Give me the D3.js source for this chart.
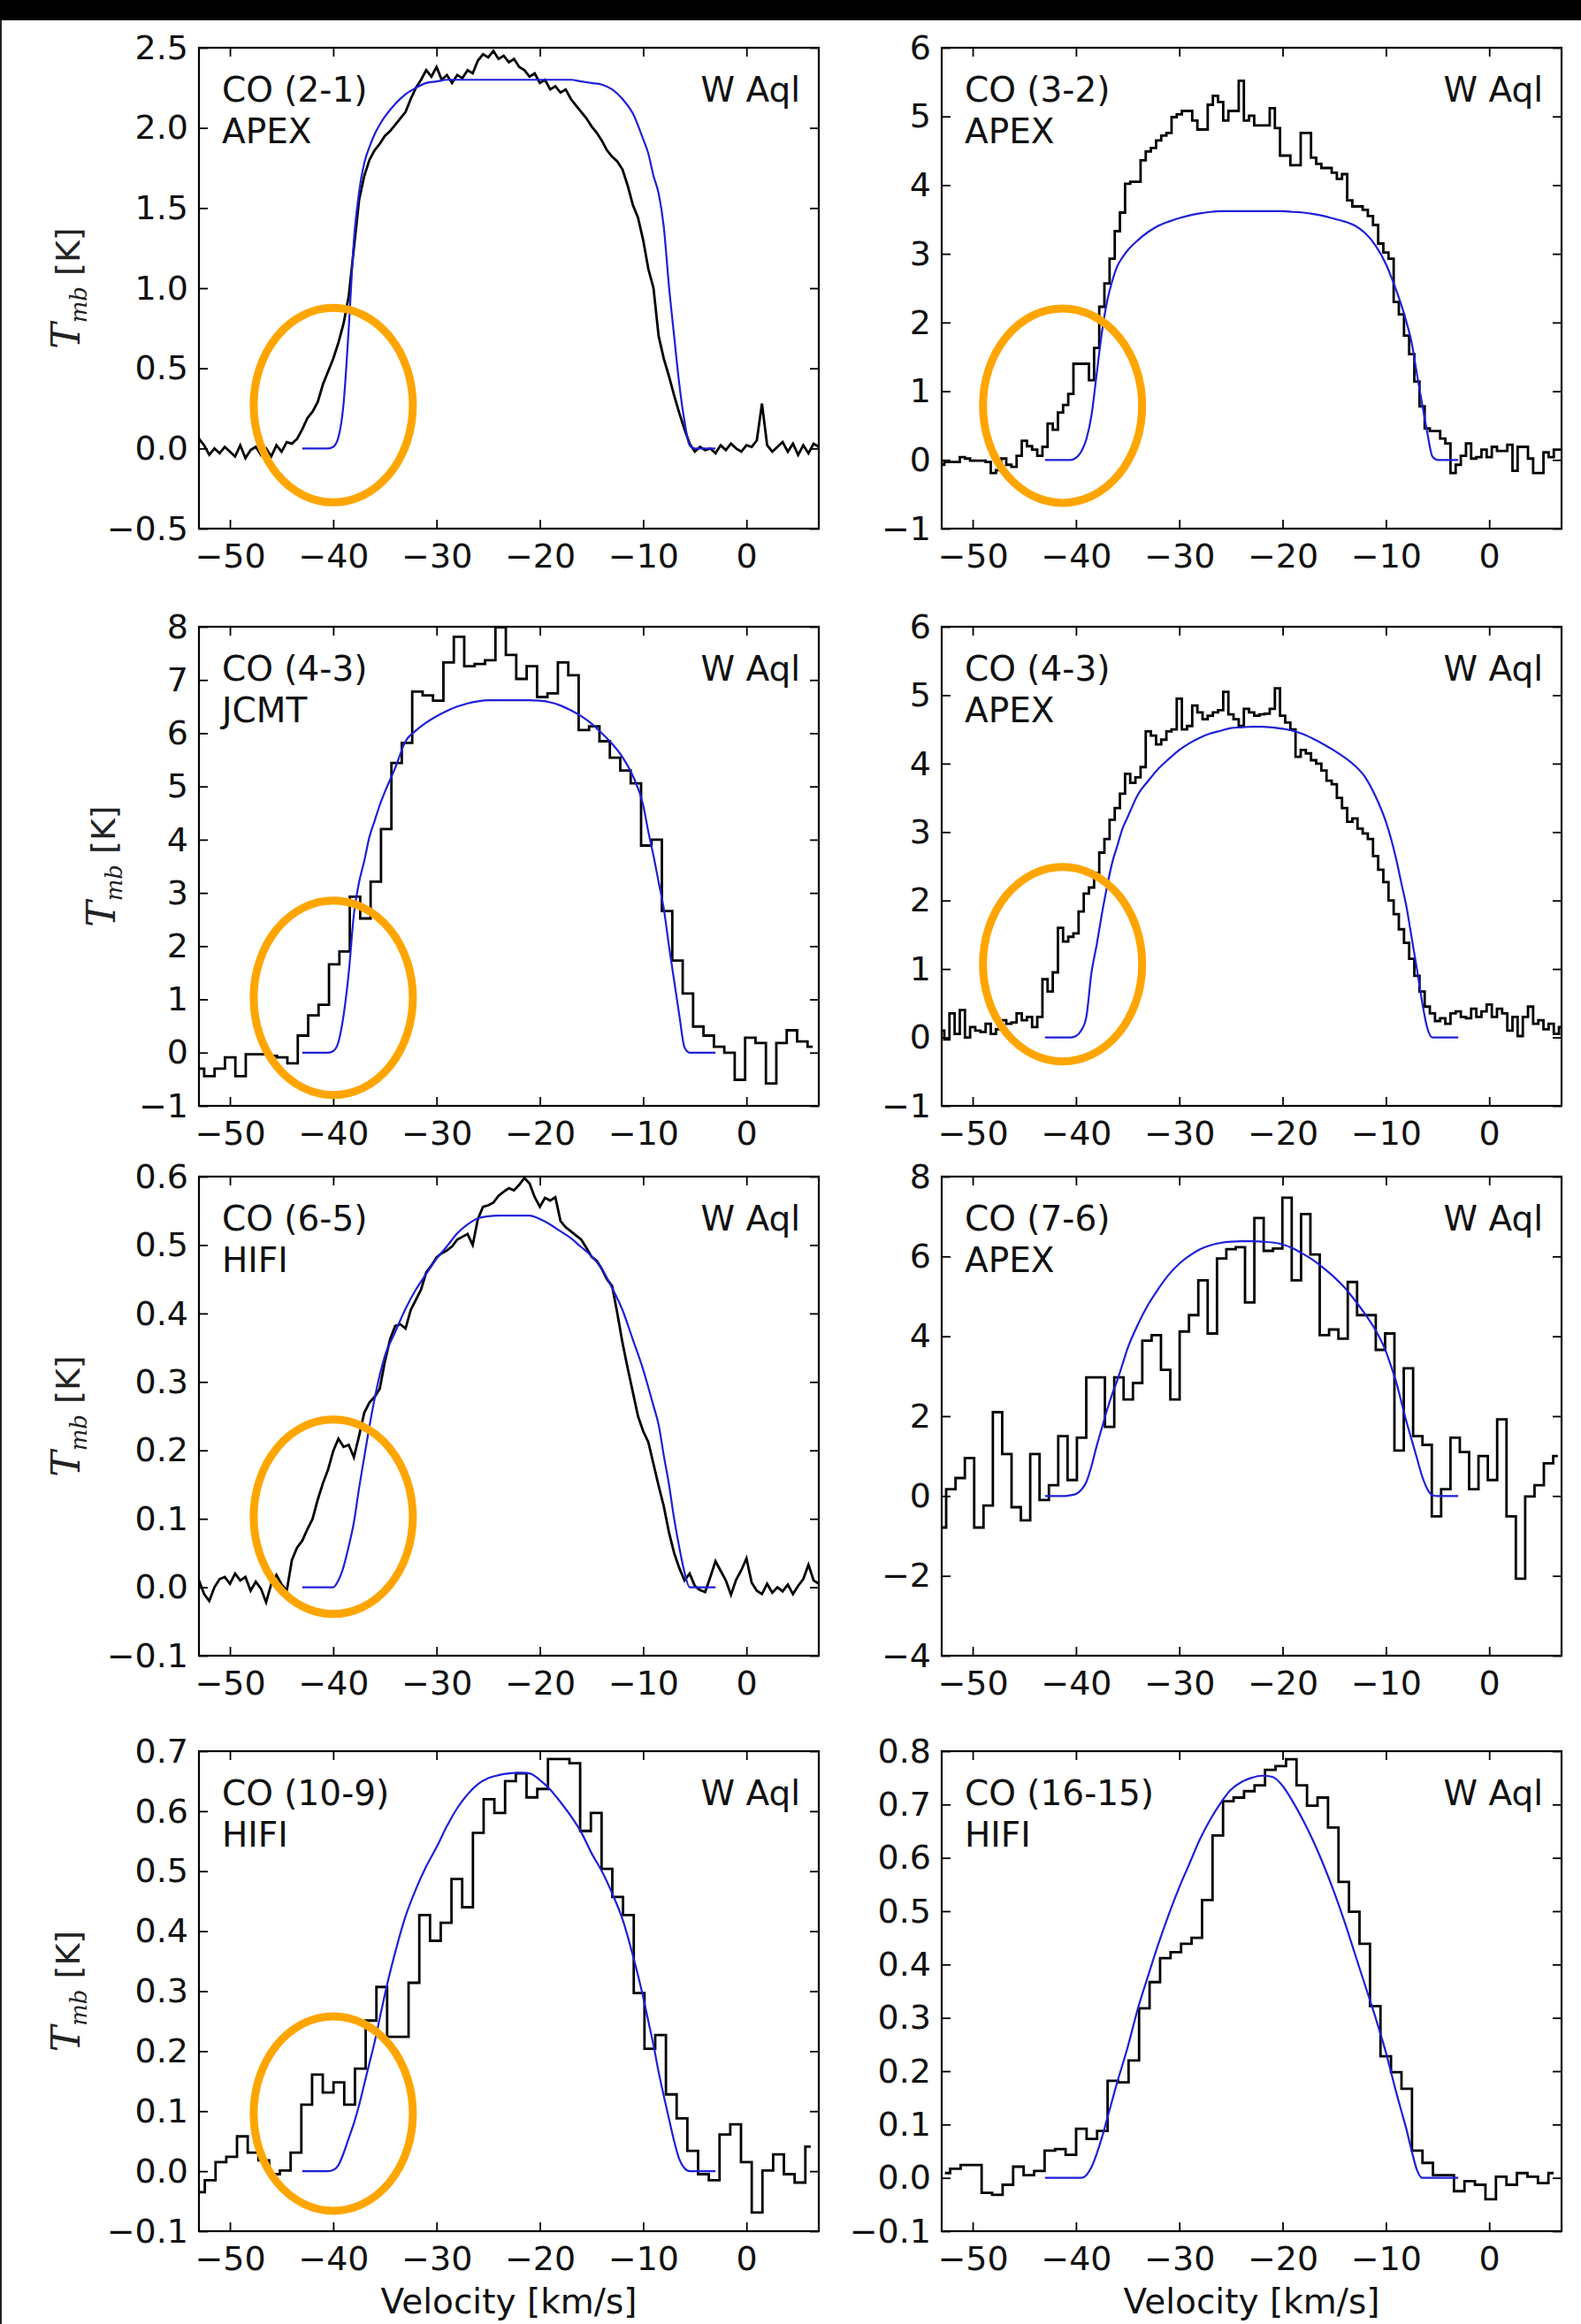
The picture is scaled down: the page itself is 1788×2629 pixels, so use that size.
<!DOCTYPE html>
<html>
<head>
<meta charset="utf-8">
<script src="https://cdn.jsdelivr.net/npm/d3@7"></script>
<style>
  html, body { margin: 0; padding: 0; background: #fff; }
  svg { display: block; }
</style>
</head>
<body>
<svg id="fig" width="1788" height="2629"></svg>
<script>
// ---------------------------------------------------------------------------
// W Aql CO line profiles: observed spectra (black) and model (blue)
// ---------------------------------------------------------------------------

// Shared velocity axis
const velTicks = [-50, -40, -30, -20, -10, 0];
const velDomain = [-53, 7];

// Velocity samples (km/s) of the model profiles
const modelVelocity = [-43, -42, -41, -40.5, -40, -39.5, -39, -38.5, -38, -37.5, -37, -36.5, -36, -35.5, -35,
  -34, -33, -32, -31, -30, -29, -28, -27, -26, -25, -24, -23, -22, -21, -20, -19, -18, -17, -16, -15, -14, -13, -12, -11, -10,
  -9.5, -9, -8.5, -8, -7.5, -7, -6.5, -6, -5.5, -5, -4, -3];

// --- CO (2-1) APEX ---------------------------------------------------------
const co21Start = -53, co21Width = 0.5;
const co21Obs = [
  0.06, 0.02, -0.04, 0.00, -0.03, 0.01, -0.02, -0.05, 0.02, -0.06,
  -0.01, 0.01, -0.04, 0.00, -0.05, 0.02, -0.02, 0.04, 0.03, 0.06,
  0.12, 0.19, 0.23, 0.29, 0.40, 0.48, 0.56, 0.66, 0.78, 0.95,
  1.25, 1.55, 1.70, 1.80, 1.86, 1.90, 1.95, 1.98, 2.02, 2.06,
  2.10, 2.18, 2.25, 2.30, 2.36, 2.32, 2.38, 2.30, 2.33, 2.28,
  2.33, 2.31, 2.36, 2.34, 2.42, 2.46, 2.44, 2.48, 2.43, 2.45,
  2.41, 2.43, 2.38, 2.36, 2.32, 2.34, 2.28, 2.30, 2.24, 2.26,
  2.22, 2.24, 2.18, 2.14, 2.10, 2.06, 2.01, 1.97, 1.92, 1.86,
  1.82, 1.79, 1.74, 1.64, 1.52, 1.44, 1.30, 1.12, 1.00, 0.70,
  0.56, 0.45, 0.33, 0.22, 0.12, 0.03, -0.02, 0.01, -0.01, 0.00,
  -0.03, 0.02, -0.01, 0.03, 0.00, -0.02, 0.02, 0.01, 0.05, 0.28,
  0.02, -0.02, 0.01, 0.04, -0.02, 0.03, -0.04, 0.02, -0.03, 0.03,
  0.01];
const co21Model = [0, 0, 0, 0, 0.01, 0.07, 0.28, 0.75, 1.3, 1.6, 1.78, 1.88, 1.96, 2.02, 2.07,
  2.15, 2.21, 2.25, 2.28, 2.29, 2.3, 2.3, 2.3, 2.3, 2.3, 2.3, 2.3, 2.3, 2.3, 2.3, 2.3, 2.3, 2.3, 2.29, 2.28, 2.27, 2.24, 2.18, 2.09, 1.93,
  1.84, 1.70, 1.59, 1.38, 1.01, 0.70, 0.40, 0.17, 0.02, 0, 0, 0];
const co21Ticks = [-0.5, 0.0, 0.5, 1.0, 1.5, 2.0, 2.5];

// --- CO (3-2) APEX ---------------------------------------------------------
const co32Start = -53, co32Width = 0.5;
const co32Obs = [
  -0.07, -0.03, -0.03, -0.03, 0.04, 0.02, -0.01, -0.01, -0.01, -0.03,
  -0.19, -0.15, 0.02, -0.07, -0.10, 0.06, 0.28, 0.20, 0.15, 0.06,
  0.19, 0.53, 0.44, 0.69, 0.80, 0.96, 1.40, 1.40, 1.40, 1.16,
  1.63, 2.23, 2.57, 2.93, 3.33, 3.60, 4.02, 4.05, 4.05, 4.36,
  4.49, 4.54, 4.65, 4.72, 4.76, 4.99, 5.03, 5.08, 5.08, 4.94,
  4.81, 4.81, 5.17, 5.30, 5.21, 4.94, 5.08, 5.08, 5.52, 4.94,
  5.01, 4.87, 4.87, 4.87, 5.12, 4.83, 4.43, 4.43, 4.29, 4.29,
  4.76, 4.76, 4.40, 4.31, 4.25, 4.25, 4.18, 4.09, 4.16, 3.78,
  3.69, 3.69, 3.64, 3.55, 3.42, 3.15, 3.02, 2.93, 2.30, 2.12,
  1.81, 1.54, 1.14, 0.78, 0.46, 0.42, 0.42, 0.31, 0.24, -0.19,
  -0.07, 0.06, 0.24, 0.02, 0.04, 0.15, 0.04, 0.19, 0.13, 0.13,
  0.22, -0.16, 0.19, 0.19, 0.02, -0.19, -0.19, 0.11, 0.04, 0.15,
  0.15];
const co32Model = [0, 0, 0, 0, 0.03, 0.12, 0.3, 0.65, 1.25, 1.85, 2.3, 2.6, 2.82, 2.95, 3.05,
  3.2, 3.32, 3.41, 3.47, 3.52, 3.56, 3.59, 3.61, 3.62, 3.62, 3.62, 3.62, 3.62, 3.62, 3.62, 3.61, 3.6, 3.58, 3.55, 3.51, 3.47, 3.41, 3.3, 3.12, 2.85,
  2.67, 2.47, 2.25, 2.0, 1.7, 1.25, 0.82, 0.4, 0.05, 0, 0, 0];
const co32Ticks = [-1, 0, 1, 2, 3, 4, 5, 6];

// --- CO (4-3) JCMT ---------------------------------------------------------
const co43jStart = -53, co43jWidth = 1.007;
const co43jObs = [
  -0.30, -0.44, -0.30, -0.09, -0.44, -0.03, -0.03, -0.06, -0.09, -0.20,
  0.32, 0.70, 0.90, 1.66, 1.90, 2.93, 2.52, 3.21, 4.20, 5.44,
  5.82, 6.78, 6.71, 6.61, 7.33, 7.81, 7.26, 7.30, 7.37, 7.99,
  7.47, 7.02, 7.26, 6.68, 6.75, 7.33, 7.09, 6.06, 6.13, 5.85,
  5.54, 5.30, 5.06, 3.89, 4.00, 2.66, 1.73, 1.11, 0.49, 0.32,
  0.11, 0.00, -0.51, 0.28, 0.18, -0.58, 0.18, 0.42, 0.21, 0.11];
const co43jModel = [0, 0, 0, 0, 0.03, 0.2, 0.7, 1.5, 2.6, 3.2, 3.6, 4.05, 4.35, 4.65, 4.9,
  5.35, 5.85, 6.05, 6.2, 6.32, 6.42, 6.5, 6.56, 6.6, 6.62, 6.62, 6.62, 6.62, 6.62, 6.61, 6.58, 6.52, 6.43, 6.32, 6.18, 6.0, 5.8, 5.55, 5.2, 4.65,
  4.15, 3.7, 3.2, 2.7, 2.0, 1.35, 0.7, 0.1, 0, 0, 0, 0];
const co43jTicks = [-1, 0, 1, 2, 3, 4, 5, 6, 7, 8];

// --- CO (4-3) APEX ---------------------------------------------------------
const co43aStart = -53, co43aWidth = 0.5;
const co43aObs = [
  0.10, -0.03, 0.35, 0.05, 0.40, 0.00, 0.15, 0.10, 0.08, 0.20,
  0.05, 0.12, 0.25, 0.20, 0.22, 0.35, 0.25, 0.30, 0.15, 0.30,
  0.85, 0.67, 0.95, 1.60, 1.40, 1.47, 1.52, 1.84, 2.10, 2.19,
  2.40, 2.70, 2.90, 3.18, 3.35, 3.56, 3.85, 3.72, 3.80, 3.95,
  4.47, 4.41, 4.28, 4.35, 4.47, 4.50, 4.95, 4.50, 4.55, 4.85,
  4.75, 4.65, 4.70, 4.75, 4.78, 5.05, 4.72, 4.65, 4.55, 4.80,
  4.75, 4.70, 4.72, 4.73, 4.80, 5.10, 4.70, 4.60, 4.50, 4.10,
  4.20, 4.15, 4.05, 4.00, 3.90, 3.75, 3.70, 3.50, 3.35, 3.15,
  3.20, 3.05, 2.98, 2.90, 2.65, 2.45, 2.27, 2.00, 1.80, 1.58,
  1.38, 1.15, 0.90, 0.67, 0.45, 0.35, 0.24, 0.28, 0.20, 0.35,
  0.38, 0.30, 0.28, 0.42, 0.30, 0.38, 0.48, 0.30, 0.42, 0.35,
  0.10, 0.30, 0.02, 0.30, 0.45, 0.20, 0.25, 0.12, 0.20, 0.05,
  0.15];
const co43aModel = [0, 0, 0, 0, 0.02, 0.1, 0.3, 0.95, 1.35, 1.8, 2.2, 2.55, 2.8, 3.05, 3.22,
  3.55, 3.75, 3.93, 4.07, 4.2, 4.3, 4.38, 4.44, 4.48, 4.52, 4.53, 4.54, 4.54, 4.53, 4.51, 4.48, 4.43, 4.36, 4.28, 4.19, 4.09, 3.97, 3.8, 3.52, 3.15,
  2.9, 2.6, 2.25, 1.9, 1.45, 1.0, 0.52, 0.14, 0, 0, 0, 0];
const co43aTicks = [-1, 0, 1, 2, 3, 4, 5, 6];

// --- CO (6-5) HIFI ---------------------------------------------------------
const co65Start = -53, co65Width = 0.5;
const co65Obs = [
  0.010, -0.010, -0.020, 0.000, 0.012, 0.015, 0.005, 0.020, 0.010, 0.015,
  -0.005, 0.008, -0.002, -0.022, 0.005, 0.018, 0.004, -0.005, 0.040, 0.058,
  0.068, 0.085, 0.100, 0.128, 0.152, 0.172, 0.199, 0.217, 0.205, 0.208,
  0.190, 0.221, 0.255, 0.270, 0.278, 0.290, 0.330, 0.362, 0.382, 0.384,
  0.378, 0.405, 0.420, 0.435, 0.460, 0.470, 0.482, 0.488, 0.492, 0.498,
  0.508, 0.512, 0.516, 0.500, 0.538, 0.556, 0.558, 0.562, 0.572, 0.578,
  0.583, 0.580, 0.588, 0.598, 0.590, 0.570, 0.556, 0.569, 0.565, 0.570,
  0.535, 0.526, 0.520, 0.514, 0.508, 0.496, 0.483, 0.477, 0.465, 0.450,
  0.440, 0.400, 0.357, 0.320, 0.285, 0.250, 0.228, 0.212, 0.180, 0.148,
  0.118, 0.080, 0.050, 0.028, 0.010, 0.020, 0.002, -0.004, -0.007, 0.015,
  0.038, 0.024, 0.010, -0.011, 0.011, 0.025, 0.042, 0.007, -0.005, -0.010,
  0.005, -0.008, 0.000, -0.006, 0.004, -0.010, 0.002, 0.012, 0.033, 0.010,
  0.005];
const co65Model = [0, 0, 0, 0, 0, 0.01, 0.03, 0.06, 0.095, 0.145, 0.19, 0.235, 0.275, 0.31, 0.338,
  0.373, 0.407, 0.435, 0.458, 0.48, 0.498, 0.517, 0.53, 0.539, 0.542, 0.543, 0.543, 0.543, 0.543, 0.538, 0.53, 0.52, 0.51, 0.497, 0.484, 0.465, 0.437, 0.405, 0.362, 0.318,
  0.292, 0.265, 0.237, 0.192, 0.15, 0.1, 0.058, 0.022, 0, 0, 0, 0];
const co65Ticks = [-0.1, 0.0, 0.1, 0.2, 0.3, 0.4, 0.5, 0.6];

// --- CO (7-6) APEX ---------------------------------------------------------
const co76Start = -53.02, co76Width = 0.904;
const co76Obs = [
  -0.79, 0.17, 0.45, 0.95, -0.79, -0.24, 2.10, 1.05, -0.28, -0.61,
  1.05, -0.10, 0.27, 1.50, 0.40, 1.46, 2.97, 2.97, 1.73, 2.97,
  2.42, 2.83, 3.89, 4.03, 3.16, 2.42, 4.12, 4.53, 5.40, 4.07,
  5.95, 6.18, 6.23, 4.85, 6.96, 6.14, 6.20, 7.47, 5.40, 7.06,
  6.05, 4.03, 4.17, 3.94, 5.36, 4.53, 4.53, 3.66, 4.07, 1.14,
  3.20, 1.50, 1.28, -0.51, 0.17, 1.46, 1.10, 0.17, 1.00, 0.40,
  1.92, -0.51, -2.07, -0.01, 0.27, 0.82, 1.00];
const co76Model = [0, 0, 0, 0.02, 0.05, 0.15, 0.35, 0.75, 1.25, 1.7, 2.15, 2.55, 2.9, 3.3, 3.7,
  4.3, 4.8, 5.2, 5.55, 5.82, 6.02, 6.18, 6.28, 6.34, 6.37, 6.38, 6.38, 6.37, 6.35, 6.3, 6.2, 6.06, 5.9, 5.7, 5.48, 5.22, 4.9, 4.55, 4.15, 3.62,
  3.25, 2.85, 2.35, 1.85, 1.4, 0.95, 0.5, 0.18, 0.02, 0, 0, 0];
const co76Ticks = [-4, -2, 0, 2, 4, 6, 8];

// --- CO (10-9) HIFI --------------------------------------------------------
const co109Start = -52.95, co109Width = 1.038;
const co109Obs = [
  -0.035, -0.015, 0.015, 0.024, 0.058, 0.031, 0.018, -0.005, 0.001, 0.031,
  0.111, 0.161, 0.131, 0.148, 0.111, 0.171, 0.251, 0.307, 0.224, 0.224,
  0.314, 0.427, 0.384, 0.414, 0.487, 0.440, 0.564, 0.620, 0.597, 0.650,
  0.663, 0.623, 0.637, 0.687, 0.687, 0.680, 0.567, 0.597, 0.504, 0.457,
  0.427, 0.297, 0.204, 0.227, 0.128, 0.088, 0.034, -0.005, -0.015, 0.061,
  0.078, 0.015, -0.069, 0.001, 0.028, -0.005, -0.019, 0.041];
const co109Model = [0, 0, 0, 0, 0.002, 0.01, 0.03, 0.055, 0.08, 0.11, 0.145, 0.18, 0.215, 0.255, 0.295,
  0.365, 0.425, 0.47, 0.508, 0.54, 0.575, 0.605, 0.628, 0.645, 0.655, 0.66, 0.663, 0.664, 0.663, 0.652, 0.636, 0.615, 0.592, 0.565, 0.53, 0.5, 0.463, 0.42, 0.36, 0.29,
  0.25, 0.21, 0.165, 0.125, 0.087, 0.05, 0.02, 0.005, 0, 0, 0, 0];
const co109Ticks = [-0.1, 0.0, 0.1, 0.2, 0.3, 0.4, 0.5, 0.6, 0.7];

// --- CO (16-15) HIFI -------------------------------------------------------
const co1615Start = -52.69, co1615Width = 1.016;
const co1615Obs = [
  0.009, 0.017, 0.024, 0.024, -0.028, -0.032, -0.013, 0.021, 0.005, 0.013,
  0.051, 0.054, 0.043, 0.092, 0.073, 0.088, 0.182, 0.179, 0.220, 0.318,
  0.367, 0.412, 0.423, 0.439, 0.450, 0.521, 0.642, 0.706, 0.713, 0.725,
  0.736, 0.765, 0.772, 0.785, 0.736, 0.698, 0.713, 0.657, 0.555, 0.499,
  0.439, 0.322, 0.228, 0.198, 0.167, 0.051, 0.028, 0.005, 0.005, -0.025,
  -0.006, -0.013, -0.040, 0.002, -0.013, 0.009, 0.002, -0.010, 0.009];
const co1615Model = [0, 0, 0, 0, 0, 0, 0.005, 0.02, 0.045, 0.075, 0.11, 0.145, 0.18, 0.212, 0.245,
  0.318, 0.38, 0.44, 0.495, 0.545, 0.59, 0.635, 0.672, 0.703, 0.728, 0.742, 0.75, 0.754, 0.752, 0.735, 0.705, 0.67, 0.63, 0.585, 0.535, 0.48, 0.42, 0.36, 0.3, 0.235,
  0.198, 0.16, 0.125, 0.09, 0.05, 0.015, 0, 0, 0, 0, 0, 0];
const co1615Ticks = [-0.1, 0.0, 0.1, 0.2, 0.3, 0.4, 0.5, 0.6, 0.7, 0.8];

// Panels: transition, telescope, data, y range, and the highlighted blue-wing region
const panels = [
  { line: "CO (2-1)", tel: "APEX", obs: co21Obs, start: co21Start, width: co21Width, model: co21Model,
    yDomain: [-0.5, 2.5], yTicks: co21Ticks, fmt: ".1f", stepped: false, wing: { v: -40, t: 0.27 }, col: 0, row: 0 },
  { line: "CO (3-2)", tel: "APEX", obs: co32Obs, start: co32Start, width: co32Width, model: co32Model,
    yDomain: [-1, 6], yTicks: co32Ticks, fmt: "d", stepped: true, wing: { v: -41.3, t: 0.79 }, col: 1, row: 0 },
  { line: "CO (4-3)", tel: "JCMT", obs: co43jObs, start: co43jStart, width: co43jWidth, model: co43jModel,
    yDomain: [-1, 8], yTicks: co43jTicks, fmt: "d", stepped: true, wing: { v: -40, t: 1.03 }, col: 0, row: 1 },
  { line: "CO (4-3)", tel: "APEX", obs: co43aObs, start: co43aStart, width: co43aWidth, model: co43aModel,
    yDomain: [-1, 6], yTicks: co43aTicks, fmt: "d", stepped: true, wing: { v: -41.3, t: 1.07 }, col: 1, row: 1 },
  { line: "CO (6-5)", tel: "HIFI", obs: co65Obs, start: co65Start, width: co65Width, model: co65Model,
    yDomain: [-0.1, 0.6], yTicks: co65Ticks, fmt: ".1f", stepped: false, wing: { v: -40, t: 0.103 }, col: 0, row: 2 },
  { line: "CO (7-6)", tel: "APEX", obs: co76Obs, start: co76Start, width: co76Width, model: co76Model,
    yDomain: [-4, 8], yTicks: co76Ticks, fmt: "d", stepped: true, wing: null, col: 1, row: 2 },
  { line: "CO (10-9)", tel: "HIFI", obs: co109Obs, start: co109Start, width: co109Width, model: co109Model,
    yDomain: [-0.1, 0.7], yTicks: co109Ticks, fmt: ".1f", stepped: true, wing: { v: -40, t: 0.096 }, col: 0, row: 3 },
  { line: "CO (16-15)", tel: "HIFI", obs: co1615Obs, start: co1615Start, width: co1615Width, model: co1615Model,
    yDomain: [-0.1, 0.8], yTicks: co1615Ticks, fmt: ".1f", stepped: true, wing: null, col: 1, row: 3 }
];

// ---------------------------------------------------------------------------
// Layout
// ---------------------------------------------------------------------------
const colLeft = [225, 1065];
const plotWidth = 701;
const rowSpan = [[54, 598], [709, 1251], [1331, 1873], [1981, 2524]];
const yLabelBaseline = [90, 130, 90, 90];
const tickFont = 38, textFont = 39;
const wingRx = 90, wingRy = 110;

const svg = d3.select("#fig");
svg.append("rect").attr("width", 1788).attr("height", 2629).attr("fill", "#fff");
svg.append("rect").attr("x", 0).attr("y", 0).attr("width", 1788).attr("height", 23).attr("fill", "#000");
svg.append("rect").attr("x", 0).attr("y", 23).attr("width", 2).attr("height", 2606).attr("fill", "#222");

const defs = svg.append("defs");

panels.forEach((p, idx) => {
  const x0 = colLeft[p.col], x1 = x0 + plotWidth;
  const [y0, y1] = rowSpan[p.row];
  const x = d3.scaleLinear().domain(velDomain).range([x0, x1]);
  const y = d3.scaleLinear().domain(p.yDomain).range([y1, y0]);
  const g = svg.append("g").attr("font-family", "DejaVu Sans, sans-serif");

  const clipId = "clip" + idx;
  defs.append("clipPath").attr("id", clipId)
    .append("rect").attr("x", x0).attr("y", y0).attr("width", x1 - x0).attr("height", y1 - y0);

  // Axes with inward ticks on all four sides
  const fmt = d3.format(p.fmt);
  const bottom = g.append("g").attr("transform", `translate(0,${y1})`)
    .call(d3.axisBottom(x).tickValues(velTicks).tickSizeInner(-10).tickSizeOuter(0).tickPadding(17));
  const top = g.append("g").attr("transform", `translate(0,${y0})`)
    .call(d3.axisTop(x).tickValues(velTicks).tickSizeInner(-10).tickSizeOuter(0).tickFormat(""));
  const left = g.append("g").attr("transform", `translate(${x0},0)`)
    .call(d3.axisLeft(y).tickValues(p.yTicks).tickSizeInner(-10).tickSizeOuter(0).tickPadding(12).tickFormat(fmt));
  const right = g.append("g").attr("transform", `translate(${x1},0)`)
    .call(d3.axisRight(y).tickValues(p.yTicks).tickSizeInner(-10).tickSizeOuter(0).tickFormat(""));
  [bottom, top, left, right].forEach(a => {
    a.select(".domain").remove();
    a.selectAll(".tick line").attr("stroke", "#000").attr("stroke-width", 1.8);
    a.selectAll(".tick text").attr("font-size", tickFont).attr("fill", "#111")
      .attr("font-family", "DejaVu Sans, sans-serif");
  });

  const plot = g.append("g").attr("clip-path", `url(#${clipId})`);

  // Observed spectrum
  const obsPts = p.obs.map((t, i) => ({ v: p.start + i * p.width, t }));
  plot.append("path")
    .attr("d", d3.line().x(d => x(d.v)).y(d => y(d.t))
      .curve(p.stepped ? d3.curveStep : d3.curveLinear)(obsPts))
    .attr("fill", "none").attr("stroke", "#000").attr("stroke-width", 2.8)
    .attr("stroke-linejoin", "miter");

  // Model profile
  const modPts = modelVelocity.map((v, i) => ({ v, t: p.model[i] }));
  plot.append("path")
    .attr("d", d3.line().x(d => x(d.v)).y(d => y(d.t)).curve(d3.curveMonotoneX)(modPts))
    .attr("fill", "none").attr("stroke", "#1f1fd8").attr("stroke-width", 2.2);

  // Frame
  g.append("rect").attr("x", x0).attr("y", y0).attr("width", x1 - x0).attr("height", y1 - y0)
    .attr("fill", "none").attr("stroke", "#000").attr("stroke-width", 2.2);

  // Panel labels
  g.append("text").attr("x", x0 + 26).attr("y", y0 + 61).attr("font-size", textFont).attr("fill", "#111").text(p.line);
  g.append("text").attr("x", x0 + 26).attr("y", y0 + 108).attr("font-size", textFont).attr("fill", "#111").text(p.tel);
  g.append("text").attr("x", x1 - 21).attr("y", y0 + 61).attr("text-anchor", "end")
    .attr("font-size", textFont).attr("fill", "#111").text("W Aql");

  // Highlight of the blue-wing excess
  if (p.wing) {
    g.append("ellipse").attr("cx", x(p.wing.v)).attr("cy", y(p.wing.t))
      .attr("rx", wingRx).attr("ry", wingRy)
      .attr("fill", "none").attr("stroke", "#ffa500").attr("stroke-width", 9);
  }

  // Y label on the left column
  if (p.col === 0) {
    const cy = (y0 + y1) / 2;
    const lab = g.append("text")
      .attr("transform", `translate(${yLabelBaseline[p.row]},${cy}) rotate(-90)`)
      .attr("text-anchor", "middle").attr("fill", "#222");
    lab.append("tspan").attr("font-family", "DejaVu Serif, serif").attr("font-style", "italic")
      .attr("font-size", 44).text("T");
    lab.append("tspan").attr("font-family", "DejaVu Serif, serif").attr("font-style", "italic")
      .attr("font-size", 26).attr("dy", 8).text("mb");
    lab.append("tspan").attr("font-size", 38).attr("dy", -8).text(" [K]");
  }

  // X label on the bottom row
  if (p.row === 3) {
    g.append("text").attr("x", (x0 + x1) / 2).attr("y", 2617).attr("text-anchor", "middle")
      .attr("font-size", 39).attr("fill", "#111").text("Velocity [km/s]");
  }
});
</script>
</body>
</html>
